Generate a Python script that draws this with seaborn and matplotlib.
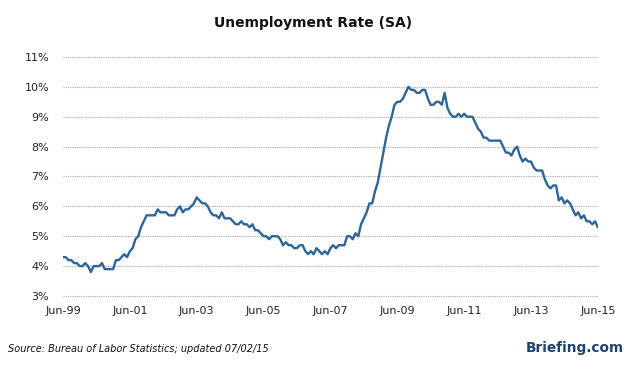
import matplotlib
matplotlib.use("Agg")
import matplotlib.pyplot as plt
import seaborn as sns
import numpy as np
import pandas as pd

# Monthly unemployment rate (%), Jun 1999 .. Jun 2015
rate_1999 = [4.3, 4.3, 4.2, 4.2, 4.1, 4.1, 4.0]  # Jun-Dec
rate_2000 = [4.0, 4.1, 4.0, 3.8, 4.0, 4.0, 4.0, 4.1, 3.9, 3.9, 3.9, 3.9]
rate_2001 = [4.2, 4.2, 4.3, 4.4, 4.3, 4.5, 4.6, 4.9, 5.0, 5.3, 5.5, 5.7]
rate_2002 = [5.7, 5.7, 5.7, 5.9, 5.8, 5.8, 5.8, 5.7, 5.7, 5.7, 5.9, 6.0]
rate_2003 = [5.8, 5.9, 5.9, 6.0, 6.1, 6.3, 6.2, 6.1, 6.1, 6.0, 5.8, 5.7]
rate_2004 = [5.7, 5.6, 5.8, 5.6, 5.6, 5.6, 5.5, 5.4, 5.4, 5.5, 5.4, 5.4]
rate_2005 = [5.3, 5.4, 5.2, 5.2, 5.1, 5.0, 5.0, 4.9, 5.0, 5.0, 5.0, 4.9]
rate_2006 = [4.7, 4.8, 4.7, 4.7, 4.6, 4.6, 4.7, 4.7, 4.5, 4.4, 4.5, 4.4]
rate_2007 = [4.6, 4.5, 4.4, 4.5, 4.4, 4.6, 4.7, 4.6, 4.7, 4.7, 4.7, 5.0]
rate_2008 = [5.0, 4.9, 5.1, 5.0, 5.4, 5.6, 5.8, 6.1, 6.1, 6.5, 6.8, 7.3]
rate_2009 = [7.8, 8.3, 8.7, 9.0, 9.4, 9.5, 9.5, 9.6, 9.8, 10.0, 9.9, 9.9]
rate_2010 = [9.8, 9.8, 9.9, 9.9, 9.6, 9.4, 9.4, 9.5, 9.5, 9.4, 9.8, 9.3]
rate_2011 = [9.1, 9.0, 9.0, 9.1, 9.0, 9.1, 9.0, 9.0, 9.0, 8.8, 8.6, 8.5]
rate_2012 = [8.3, 8.3, 8.2, 8.2, 8.2, 8.2, 8.2, 8.0, 7.8, 7.8, 7.7, 7.9]
rate_2013 = [8.0, 7.7, 7.5, 7.6, 7.5, 7.5, 7.3, 7.2, 7.2, 7.2, 6.9, 6.7]
rate_2014 = [6.6, 6.7, 6.7, 6.2, 6.3, 6.1, 6.2, 6.1, 5.9, 5.7, 5.8, 5.6]
rate_2015 = [5.7, 5.5, 5.5, 5.4, 5.5, 5.3]  # Jan-Jun

tick_labels = ["Jun-99", "Jun-01", "Jun-03", "Jun-05", "Jun-07",
               "Jun-09", "Jun-11", "Jun-13", "Jun-15"]
y_ticks = [3, 4, 5, 6, 7, 8, 9, 10, 11]

rates = (rate_1999 + rate_2000 + rate_2001 + rate_2002 + rate_2003 + rate_2004 +
         rate_2005 + rate_2006 + rate_2007 + rate_2008 + rate_2009 + rate_2010 +
         rate_2011 + rate_2012 + rate_2013 + rate_2014 + rate_2015)
df = pd.DataFrame({"month": np.arange(len(rates)), "rate": rates})

sns.set_theme(style="white")
plt.rcParams['font.family'] = ['DejaVu Sans']

fig = plt.figure(figsize=(6.26, 3.67), dpi=100)
ax = fig.add_axes([0.1006, 0.1935, 0.8544, 0.6512])

sns.lineplot(data=df, x="month", y="rate", ax=ax, color="#2d6598", linewidth=1.7,
             zorder=3)

ax.set_xlim(0, len(rates) - 1)
ax.set_ylim(3, 11)
ax.set_xticks(np.arange(len(tick_labels)) * 24)
ax.set_xticklabels(tick_labels)
ax.set_yticks(y_ticks)
ax.set_yticklabels([f"{v}%" for v in y_ticks])
ax.tick_params(axis="both", labelsize=8, colors="#222222", length=0)
ax.tick_params(axis="x", pad=7)
ax.tick_params(axis="y", pad=10)
ax.set_xlabel("")
ax.set_ylabel("")
for s in ax.spines.values():
    s.set_visible(False)
ax.yaxis.grid(True, color="#a8a8a8", linestyle=(0, (1, 1)), linewidth=0.8)
ax.xaxis.grid(False)
for gl in ax.get_ygridlines():
    gl.set_clip_on(False)

fig.text(0.5, 0.937, "Unemployment Rate (SA)", ha="center", va="center",
         fontsize=10, fontweight="bold", color="#111111")
fig.text(0.013, 0.049, "Source: Bureau of Labor Statistics; updated 07/02/15",
         ha="left", va="center", fontsize=7, style="italic", color="#111111")
fig.text(0.996, 0.052, "Briefing.com", ha="right", va="center",
         fontsize=9.8, fontweight="bold", color="#1d4272")

fig.savefig("out.png", dpi=100)
